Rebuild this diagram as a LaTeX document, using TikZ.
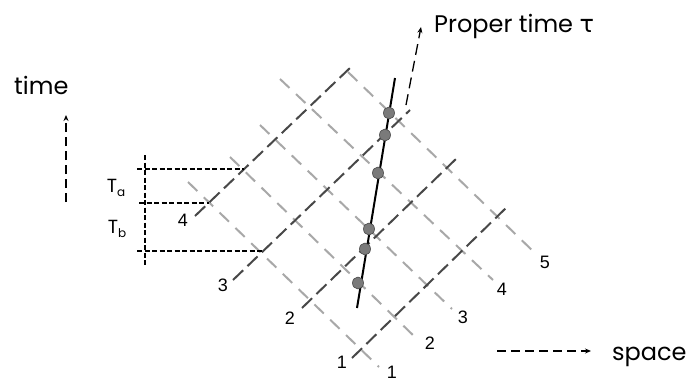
\documentclass[tikz,border=0pt]{standalone}
\usepackage{fontspec}
\setmainfont{Liberation Sans}
\newfontfamily\comicfont{Poppins}
\newfontfamily\greekfont{DejaVu Sans}
\usetikzlibrary{arrows.meta}
\definecolor{darkline}{HTML}{484848}
\definecolor{lightline}{HTML}{A8A8A8}
\definecolor{dotfill}{HTML}{7A7A7A}
\tikzset{
  darkgrid/.style={draw=darkline, line width=2pt, dash pattern=on 14pt off 6pt},
  lightgrid/.style={draw=lightline, line width=2pt, dash pattern=on 13pt off 9pt},
  worldline/.style={draw=black, line width=2pt},
  event/.style={draw=darkline, fill=dotfill, line width=0.6pt},
  guide/.style={draw=black, line width=1.2pt, dash pattern=on 5pt off 2.5pt},
  axisarrow/.style={draw=black, line width=1.3pt, dash pattern=on 9pt off 5pt, -{Stealth[length=6pt,width=5pt]}},
  numlabel/.style={font=\fontsize{18}{18}\selectfont, inner sep=0pt},
  wordlabel/.style={font=\comicfont\fontsize{24}{28}\selectfont, inner sep=0pt, anchor=base west},
  tlabel/.style={font=\comicfont\fontsize{19}{19}\selectfont, inner sep=0pt}
}
\begin{document}
\begin{tikzpicture}[x=1pt,y=-1pt]
\useasboundingbox (0,0) rectangle (689,383);
\fill[white] (0,0) rectangle (689,383);
% dark grid lines (up-right)
\coordinate (d4a) at (195,216); \coordinate (d4b) at (351,67);
\coordinate (d3a) at (233,280); \coordinate (d3b) at (410,110);
\coordinate (d2a) at (302,308); \coordinate (d2b) at (458,157);
\coordinate (d1a) at (352,358); \coordinate (d1b) at (508,206);
% light grid lines (down-right)
\coordinate (l1a) at (188,182); \coordinate (l1b) at (379,367);
\coordinate (l2a) at (230,157); \coordinate (l2b) at (417,339);
\coordinate (l3a) at (260,125); \coordinate (l3b) at (452,309);
\coordinate (l4a) at (280,79);  \coordinate (l4b) at (493,280);
\coordinate (l5a) at (348,72);  \coordinate (l5b) at (537,255);
\foreach \i in {1,...,5}{\path[lightgrid] (l\i a) -- (l\i b);}
\foreach \i in {1,...,4}{\path[darkgrid] (d\i a) -- (d\i b);}
% guides
\coordinate (va) at (145,155); \coordinate (vb) at (145,267);
\path[guide] (va) -- (vb);
\coordinate (h1a) at (137,169); \coordinate (h1b) at (244,169);
\coordinate (h2a) at (139,203); \coordinate (h2b) at (209,203);
\coordinate (h3a) at (137,251); \coordinate (h3b) at (263,251);
\path[guide] (h1a) -- (h1b);
\path[guide] (h2a) -- (h2b);
\path[guide] (h3a) -- (h3b);
% world line
\coordinate (wa) at (357,308); \coordinate (wb) at (395,78);
\path[worldline] (wa) -- (wb);
\foreach \n/\x/\y in {e1/389/113, e2/385/135, e3/378/173, e4/369/229, e5/365/249, e6/358/283}{
  \path[event] (\x,\y) ellipse [x radius=5.5pt, y radius=6pt];
}
% arrows
\coordinate (pa) at (406,105); \coordinate (pb) at (421,27);
\path[axisarrow, dash pattern=on 11pt off 6pt] (pa) -- (pb);
\coordinate (ta) at (66,202); \coordinate (tb) at (66,115);
\path[axisarrow] (ta) -- (tb);
\coordinate (sa) at (497,351); \coordinate (sb) at (591,351);
\path[axisarrow] (sa) -- (sb);
% word labels
\node[wordlabel] (time) at (14,94) {time};
\node[wordlabel] (proper) at (434,32) {Proper time {\greekfont τ}};
\node[wordlabel] (space) at (612,360) {space};
\node[tlabel] (Ta) at (116,188) {T\raisebox{-4pt}{\fontsize{12}{12}\selectfont a}};
\node[tlabel] (Tb) at (117,229) {T\raisebox{-4pt}{\fontsize{12}{12}\selectfont b}};
% number labels
\node[numlabel] (n4) at (183,220) {4};
\node[numlabel] (n3) at (223,285) {3};
\node[numlabel] (n2) at (290,318) {2};
\node[numlabel] (n1) at (342,362) {1};
\node[numlabel] (m1) at (392,372) {1};
\node[numlabel] (m2) at (430,343) {2};
\node[numlabel] (m3) at (463,317) {3};
\node[numlabel] (m4) at (502,289) {4};
\node[numlabel] (m5) at (545,262) {5};
\end{tikzpicture}
\end{document}
